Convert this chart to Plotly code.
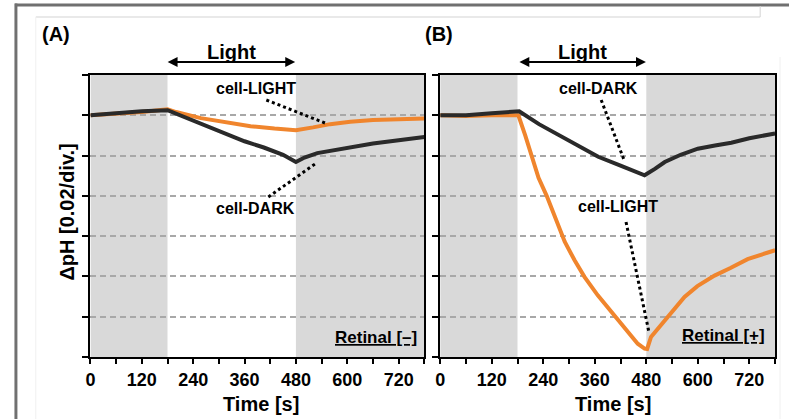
import plotly.graph_objects as go

W, H = 789, 419

# ---------------- data (ΔpH) ----------------
# Panel A: Retinal [-]
t_a_dark = [0, 20, 60, 120, 180, 240, 300, 360, 405, 450, 480, 500, 530, 570, 607, 660, 720, 780]
ph_a_dark = [0.0, 0.0004, 0.001, 0.002, 0.0025, -0.0026, -0.0078, -0.0129, -0.0160, -0.0196,
             -0.0232, -0.0210, -0.0188, -0.0172, -0.0158, -0.0140, -0.0124, -0.0108]
t_a_light = [0, 60, 120, 180, 200, 258, 320, 374, 430, 480, 520, 560, 607, 660, 720, 780]
ph_a_light = [0.0, 0.0006, 0.0016, 0.0030, 0.0016, -0.0014, -0.0038, -0.0054, -0.0066, -0.0074,
              -0.0060, -0.0044, -0.0032, -0.0024, -0.0020, -0.0016]

# Panel B: Retinal [+]
t_b_dark = [0, 60, 120, 184, 230, 291, 330, 368, 420, 476, 500, 523, 560, 600, 640, 678, 720, 780]
ph_b_dark = [0.0, 0.0, 0.0010, 0.0020, -0.0044, -0.0116, -0.0160, -0.0206, -0.0250, -0.0298,
             -0.0266, -0.0232, -0.0196, -0.0166, -0.0150, -0.0136, -0.0114, -0.0090]
t_b_light = [0, 60, 120, 182, 198, 229, 248, 271, 290, 313, 336, 367, 398, 429, 460, 476, 482,
             491, 523, 569, 599, 639, 676, 716, 780]
ph_b_light = [0.0, -0.0004, 0.0, 0.0, -0.0100, -0.0310, -0.0400, -0.0522, -0.0628, -0.0720,
              -0.0802, -0.0894, -0.0976, -0.1058, -0.1134, -0.1158, -0.1160, -0.1100, -0.1018,
              -0.0902, -0.0848, -0.0796, -0.0758, -0.0714, -0.0670]

x_ticks = [0, 120, 240, 360, 480, 600, 720]
light_on, light_off, t_end = 180, 480, 780

ORANGE = "#F0852D"
DARK = "#2A2A2A"
SHADE = "#D9D9D9"
FONT = "Liberation Sans, Arial, sans-serif"


def px(x, y):
    """pixel position -> paper fraction"""
    return x / W, 1 - y / H


fig = go.Figure()
for xa, ya, td, pd_, tl, pl in [("x", "y", t_a_dark, ph_a_dark, t_a_light, ph_a_light),
                                 ("x2", "y2", t_b_dark, ph_b_dark, t_b_light, ph_b_light)]:
    fig.add_trace(go.Scatter(x=tl, y=pl, mode="lines", xaxis=xa, yaxis=ya,
                             line=dict(color=ORANGE, width=4), showlegend=False))
    fig.add_trace(go.Scatter(x=td, y=pd_, mode="lines", xaxis=xa, yaxis=ya,
                             line=dict(color=DARK, width=4), showlegend=False))
    for x0, x1 in [(0, light_on), (light_off, t_end)]:
        fig.add_shape(type="rect", xref=xa, yref=ya + " domain", x0=x0, x1=x1, y0=0, y1=1,
                      fillcolor=SHADE, line=dict(width=0), layer="below")

xcommon = dict(range=[0, t_end], tickvals=x_ticks, ticks="outside", ticklen=5, tickwidth=2,
               tickcolor="black", showline=True, linecolor="black", linewidth=2, mirror=True,
               showgrid=False, zeroline=False,
               tickfont=dict(family=FONT, size=18, color="black", weight="bold"),
               minor=dict(dtick=60, tick0=0, ticks="outside", ticklen=5, tickwidth=2, tickcolor="black"))
ycommon = dict(range=[-0.12, 0.02], tick0=0, dtick=0.02, ticks="outside", ticklen=6, tickwidth=2,
               tickcolor="black", showticklabels=False, showline=True, linecolor="black",
               linewidth=2, mirror=True, showgrid=True, gridcolor="#A8A8A8", gridwidth=1.5,
               griddash="6px,4px", zeroline=False)

ydom = [(H - 357) / H, (H - 75) / H]
fig.update_layout(
    width=W, height=H, autosize=False,
    margin=dict(l=0, r=0, t=0, b=0),
    paper_bgcolor="white", plot_bgcolor="white",
    xaxis=dict(domain=[86 / W, 422 / W], anchor="y", **xcommon),
    yaxis=dict(domain=ydom, anchor="x", **ycommon),
    xaxis2=dict(domain=[438 / W, 775 / W], anchor="y2", **xcommon),
    yaxis2=dict(domain=ydom, anchor="x2", **ycommon),
    font=dict(family=FONT, color="black"),
)

ann = []


def text(x, y, s, size, xanchor="center", angle=0):
    fx, fy = px(x, y)
    ann.append(dict(x=fx, y=fy, xref="paper", yref="paper", text=s, showarrow=False,
                    xanchor=xanchor, yanchor="middle", textangle=angle,
                    font=dict(family=FONT, size=size, color="black")))


def arrow(x0, x1, y):
    fx, fy = px(x1, y)
    ann.append(dict(x=fx, y=fy, xref="paper", yref="paper", ax=-(x1 - x0), ay=0,
                    axref="pixel", ayref="pixel", text="", showarrow=True,
                    arrowside="end+start", arrowhead=2, arrowsize=1.1, arrowwidth=1.8,
                    arrowcolor="black"))


def dotted(x0, y0, x1, y1):
    a, b = px(x0, y0)
    c, d = px(x1, y1)
    fig.add_shape(type="line", xref="paper", yref="paper", x0=a, y0=b, x1=c, y1=d,
                  line=dict(color="black", width=3, dash="dot"))


# panel labels & light bars
text(51, 34, "<b>(A)</b>", 20)
text(437, 34, "<b>(B)</b>", 20)
text(228, 52, "<b>Light</b>", 20)
text(581, 52, "<b>Light</b>", 20)
arrow(163, 292, 62)
arrow(517, 645, 62)

# curve labels
text(253, 89, "<b>cell-LIGHT</b>", 16)
dotted(263, 100, 322, 123)
text(252, 208, "<b>cell-DARK</b>", 16)
dotted(265, 197, 312, 164)
text(597, 89, "<b>cell-DARK</b>", 16)
dotted(600, 100, 623, 160)
text(617, 207, "<b>cell-LIGHT</b>", 16)
dotted(625, 222, 648, 332)

text(417, 337, "<u><b>Retinal [–]</b></u>", 17, xanchor="right")
text(767, 335, "<u><b>Retinal [+]</b></u>", 17, xanchor="right")

# axis titles
text(62, 212, "<b>ΔpH [0.02/div.]</b>", 20, angle=-90)
text(258, 404, "<b>Time [s]</b>", 20)
text(612, 404, "<b>Time [s]</b>", 20)

fig.update_layout(annotations=ann)

# frame decorations (thin filled rectangles)
for (x0, y0, x1, y1, col) in [(10, 3.5, W, 6.5, "#707070"), (9.5, 3.5, 12.5, H, "#707070"),
                              (31, 16.5, 760, 17.5, "#D4D4D4"), (759.5, 6, 760.5, 17, "#D4D4D4"),
                              (30.5, 17, 31.5, H, "#F0F0F0"), (779.5, 57, 780.5, H, "#F0F0F0")]:
    a, b = px(x0, y0)
    c, d = px(x1, y1)
    fig.add_shape(type="rect", xref="paper", yref="paper", x0=a, y0=b, x1=c, y1=d,
                  fillcolor=col, line=dict(width=0))

fig.write_html("out.html", config={"displayModeBar": False},
               post_script="document.body.style.margin='0';document.body.style.overflow='hidden';")
